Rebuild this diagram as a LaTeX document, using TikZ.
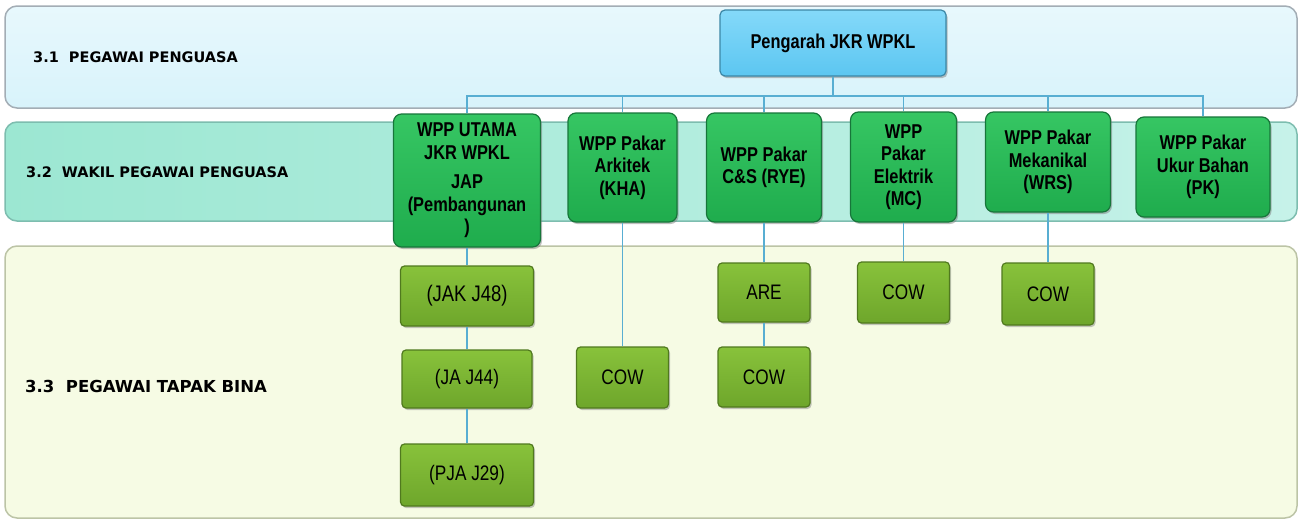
\documentclass[tikz,border=0pt]{standalone}
\usepackage{fontspec}
\setmainfont{Liberation Sans}
\newfontfamily\narrowfont{Liberation Sans}[FakeStretch=0.82]
\newfontfamily\labelfont{DejaVu Sans}
\usepackage{tikz}
\usetikzlibrary{shadows}
\definecolor{bandblue}{HTML}{D8F3FB}
\definecolor{bandblueline}{HTML}{A3ADB5}
\definecolor{bandteal}{HTML}{9CE7D2}
\definecolor{bandtealright}{HTML}{C6F2E9}
\definecolor{bandtealline}{HTML}{7DBDAF}
\definecolor{bandcream}{HTML}{F6FBE4}
\definecolor{bandcreamline}{HTML}{BCC4A6}
\definecolor{bosstop}{HTML}{84D9F9}
\definecolor{bossbot}{HTML}{5CC6F1}
\definecolor{bossline}{HTML}{3C87A6}
\definecolor{wakiltop}{HTML}{36C663}
\definecolor{wakilbot}{HTML}{1FAC4D}
\definecolor{wakilline}{HTML}{17763A}
\definecolor{tapaktop}{HTML}{88C23B}
\definecolor{tapakbot}{HTML}{6EA62B}
\definecolor{tapakline}{HTML}{50791E}
\definecolor{linkblue}{HTML}{58AED2}

\begin{document}
\begin{tikzpicture}[x=1pt,y=-1pt,
  band/.style={rounded corners=12pt,line width=1.5pt},
  bandlabel/.style={anchor=west,inner sep=0pt,text=black,
    font=\labelfont\bfseries\fontsize{14.5}{17}\selectfont},
  boss/.style={draw=bossline,line width=1.2pt,rounded corners=5pt,
    top color=bosstop,bottom color=bossbot,inner sep=0pt,text=black,
    font=\narrowfont\bfseries\fontsize{20}{22.5}\selectfont,
    drop shadow={shadow xshift=1.5pt,shadow yshift=-2pt,opacity=.5}},
  wakil/.style={draw=wakilline,line width=1.2pt,rounded corners=8pt,
    top color=wakiltop,bottom color=wakilbot,inner sep=0pt,align=center,
    text=black,font=\narrowfont\bfseries\fontsize{20}{22.5}\selectfont,
    drop shadow={shadow xshift=1.5pt,shadow yshift=-2pt,opacity=.5}},
  tapak/.style={draw=tapakline,line width=1.2pt,rounded corners=4pt,
    top color=tapaktop,bottom color=tapakbot,inner sep=0pt,
    minimum width=92pt,minimum height=60pt,text=black,
    font=\narrowfont\fontsize{21}{24}\selectfont,
    drop shadow={shadow xshift=1.5pt,shadow yshift=-2pt,opacity=.45}},
  link/.style={draw=linkblue,line width=1.8pt}]
\fill[white] (0,0) rectangle (1300,522);
\useasboundingbox (0,0) rectangle (1300,522);

% three levels
\draw[band,draw=bandblueline,top color=white!40!bandblue,bottom color=bandblue] (5,6) rectangle (1297,108);
\draw[band,draw=bandtealline,left color=bandteal,right color=bandtealright] (5,122) rectangle (1297,221);
\draw[band,draw=bandcreamline,fill=bandcream] (5,246) rectangle (1297,518);
\node[bandlabel] (l1) at (33,57) {3.1\ \ PEGAWAI PENGUASA};
\node[bandlabel] (l2) at (26,172) {3.2\ \ WAKIL PEGAWAI PENGUASA};
\node[bandlabel,font=\labelfont\bfseries\fontsize{16.5}{19}\selectfont] (l3) at (25,386) {3.3\ \ PEGAWAI TAPAK BINA};

% pegawai penguasa
\node[boss,minimum width=226pt,minimum height=66pt] (pengarah) at (833,43) {Pengarah JKR WPKL};

% wakil pegawai penguasa
\node[wakil,minimum width=147pt,minimum height=133pt] (utama) at (467,180.5)
  {WPP UTAMA\\JKR WPKL\\[7pt]JAP\\(Pembangunan\\)};
\node[wakil,minimum width=109pt,minimum height=109pt] (arkitek) at (622.5,167.5)
  {WPP Pakar\\Arkitek\\(KHA)};
\node[wakil,minimum width=115pt,minimum height=109pt] (cs) at (764,167.5)
  {WPP Pakar\\C\&S (RYE)};
\node[wakil,minimum width=106pt,minimum height=110pt] (elektrik) at (903.5,167)
  {WPP\\Pakar\\Elektrik\\(MC)};
\node[wakil,minimum width=125pt,minimum height=100pt] (mekanikal) at (1048,162)
  {WPP Pakar\\Mekanikal\\(WRS)};
\node[wakil,minimum width=134pt,minimum height=100pt] (ukur) at (1203,167)
  {WPP Pakar\\Ukur Bahan\\(PK)};

% pegawai tapak bina
\node[tapak,minimum width=133pt,font=\narrowfont\fontsize{22.5}{24}\selectfont] (jak) at (467,296) {(JAK J48)};
\node[tapak,minimum width=130pt,minimum height=58pt] (ja) at (467,379) {(JA J44)};
\node[tapak,minimum width=133pt,minimum height=62pt] (pja) at (467,475) {(PJA J29)};
\node[tapak,minimum height=61pt] (cowa) at (622.5,377.5) {COW};
\node[tapak,minimum height=59pt] (are) at (764,292.5) {ARE};
\node[tapak] (cowc) at (764,377) {COW};
\node[tapak,minimum height=61pt] (cowe) at (903.5,292.5) {COW};
\node[tapak,minimum height=62pt] (cowm) at (1048,294) {COW};

% connectors
\coordinate (bus) at (0,96);
\foreach \n in {utama,arkitek,cs,elektrik,mekanikal,ukur}
  \draw[link] (pengarah.south) |- (bus -| \n.north) -- (\n.north);
\draw[link] (utama) -- (jak);
\draw[link] (jak) -- (ja);
\draw[link] (ja) -- (pja);
\draw[link] (arkitek) -- (cowa);
\draw[link] (cs) -- (are);
\draw[link] (are) -- (cowc);
\draw[link] (elektrik) -- (cowe);
\draw[link] (mekanikal) -- (cowm);
\end{tikzpicture}
\end{document}
